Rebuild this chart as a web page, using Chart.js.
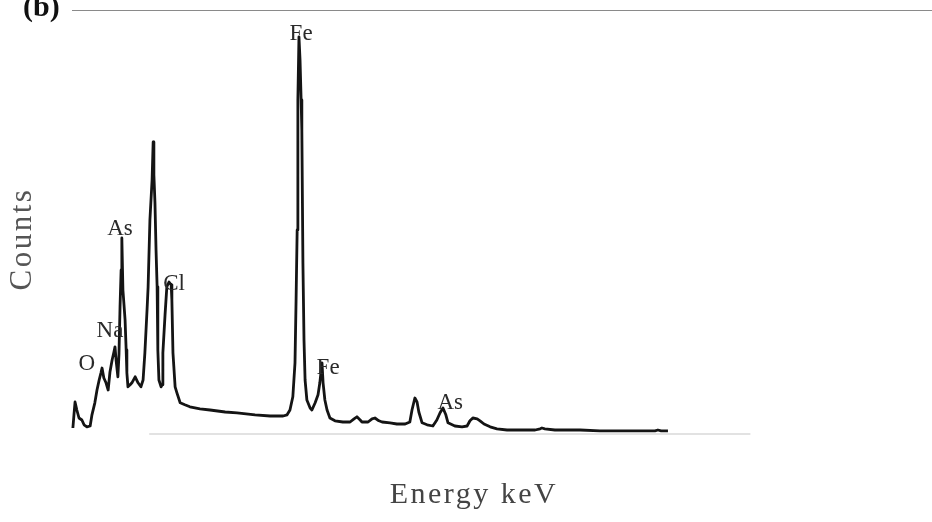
<!DOCTYPE html>
<html>
<head>
<meta charset="utf-8">
<script src="https://cdn.jsdelivr.net/npm/chart.js@4/dist/chart.umd.min.js"></script>
<style>
  html, body { margin: 0; padding: 0; background: #ffffff; }
  #wrap { width: 932px; height: 522px; }
</style>
</head>
<body>
<div id="wrap"><canvas id="c" width="932" height="522"></canvas></div>
<script>
// EDS spectrum: energy (keV) and counts
const energy = [
  0.08, 0.11, 0.14, 0.19, 0.25, 0.33, 0.39, 0.47, 0.56, 0.61, 0.69, 0.75, 0.81, 0.86, 0.89, 0.94,
  1.00, 1.06, 1.11, 1.17, 1.22, 1.25, 1.28, 1.33, 1.36, 1.39, 1.42, 1.44, 1.47, 1.50, 1.53, 1.56,
  1.58, 1.61, 1.67, 1.72, 1.81, 1.89, 1.97, 2.03, 2.08, 2.14, 2.17, 2.22, 2.28, 2.31, 2.33, 2.36,
  2.39, 2.42, 2.44, 2.47, 2.53, 2.56, 2.58, 2.64, 2.69, 2.75, 2.81, 2.83, 2.86, 2.92, 2.97, 3.06,
  3.19, 3.33, 3.61, 3.89, 4.31, 4.64, 5.14, 5.56, 5.92, 6.03, 6.11, 6.19, 6.25, 6.28, 6.31, 6.33,
  6.36, 6.39, 6.42, 6.44, 6.47, 6.50, 6.53, 6.58, 6.67, 6.72, 6.81, 6.89, 6.94, 7.00, 7.03, 7.08,
  7.14, 7.22, 7.36, 7.58, 7.78, 7.89, 7.97, 8.06, 8.11, 8.28, 8.39, 8.47, 8.58, 8.67, 8.89, 9.08,
  9.31, 9.44, 9.50, 9.58, 9.64, 9.69, 9.78, 9.92, 10.08, 10.19, 10.28, 10.36, 10.44, 10.50, 10.69, 10.89,
  11.03, 11.11, 11.19, 11.31, 11.39, 11.50, 11.67, 11.86, 12.14, 12.50, 12.92, 13.06, 13.11, 13.19, 13.47, 14.17,
  14.72, 15.28, 15.83, 16.25, 16.33, 16.42, 16.61
];
const counts = [
  15, 48, 80, 60, 40, 35, 23, 18, 20, 48, 78, 110, 135, 153, 165, 140,
  128, 110, 155, 185, 205, 218, 185, 143, 198, 318, 410, 490, 360, 323, 285, 210,
  153, 118, 123, 128, 143, 128, 118, 135, 203, 310, 368, 535, 635, 730, 648, 578,
  460, 368, 210, 135, 118, 123, 203, 298, 368, 380, 373, 335, 203, 118, 103, 78,
  73, 68, 63, 60, 55, 53, 48, 45, 45, 48, 60, 93, 178, 335, 510, 835,
  993, 935, 835, 760, 428, 235, 135, 85, 65, 60, 78, 98, 128, 178, 128, 85,
  60, 40, 33, 30, 30, 38, 43, 35, 30, 30, 38, 40, 33, 30, 28, 25,
  25, 30, 60, 90, 80, 55, 28, 23, 20, 35, 53, 65, 48, 28, 20, 18,
  20, 33, 40, 38, 33, 25, 18, 13, 10, 10, 10, 13, 15, 13, 10, 10,
  8, 8, 8, 8, 10, 8, 8
];

// Element labels placed above their peaks (energy keV, counts)
const peakNames  = ['O', 'Na', 'As', 'Cl', 'Fe', 'Fe', 'As'];
const peakEnergy = [0.47, 1.11, 1.39, 2.89, 6.42, 7.17, 10.56];
const peakCounts = [160, 243, 498, 360, 985, 150, 63];

const panelTag = '(b)';
const xTitle = 'Energy keV';
const yTitle = 'Counts';

const points = energy.map((e, i) => ({ x: e, y: counts[i] }));

const decor = {
  id: 'decor',
  beforeDatasetsDraw(chart) {
    const { ctx, scales: { x, y } } = chart;
    ctx.save();
    // faint energy baseline
    ctx.strokeStyle = '#d9d9d9';
    ctx.lineWidth = 1.5;
    ctx.beginPath();
    ctx.moveTo(x.getPixelForValue(2.2), y.getPixelForValue(0));
    ctx.lineTo(x.getPixelForValue(18.9), y.getPixelForValue(0));
    ctx.stroke();
    ctx.restore();
  },
  afterDraw(chart) {
    const { ctx, scales: { x, y }, chartArea } = chart;
    ctx.save();

    // panel rule along the top
    ctx.strokeStyle = '#8a8a8a';
    ctx.lineWidth = 1;
    ctx.beginPath();
    ctx.moveTo(chartArea.left + 2, chartArea.top + 0.5);
    ctx.lineTo(chart.width, chartArea.top + 0.5);
    ctx.stroke();

    // panel tag
    ctx.fillStyle = '#111';
    ctx.font = 'bold 30px "Liberation Serif", "Times New Roman", serif';
    ctx.textAlign = 'left';
    ctx.textBaseline = 'alphabetic';
    ctx.fillText(panelTag, 23, 16);

    // element labels
    ctx.fillStyle = '#2a2a2a';
    ctx.font = '23px "Liberation Serif", "Times New Roman", serif';
    ctx.textAlign = 'center';
    peakNames.forEach((n, i) => {
      ctx.fillText(n, x.getPixelForValue(peakEnergy[i]), y.getPixelForValue(peakCounts[i]));
    });

    // axis titles
    ctx.letterSpacing = '2.5px';
    ctx.fillStyle = '#444';
    ctx.font = '30px "Liberation Serif", "Times New Roman", serif';
    ctx.textAlign = 'center';
    ctx.fillText(xTitle, (x.left + x.right) / 2 + 62, 503);

    ctx.fillStyle = '#555';
    ctx.font = '31px "Liberation Serif", "Times New Roman", serif';
    ctx.translate(23, 239);
    ctx.rotate(-Math.PI / 2);
    ctx.textBaseline = 'middle';
    ctx.fillText(yTitle, 0, 0);
    ctx.restore();
  }
};

new Chart(document.getElementById('c'), {
  type: 'line',
  data: {
    datasets: [{
      data: points,
      borderColor: '#141414',
      borderWidth: 2.8,
      pointRadius: 0,
      tension: 0,
      fill: false,
      borderJoinStyle: 'round'
    }]
  },
  options: {
    responsive: false,
    animation: false,
    devicePixelRatio: 1,
    layout: { padding: { left: 70, right: 178, top: 10, bottom: 88 } },
    plugins: { legend: { display: false }, tooltip: { enabled: false } },
    scales: {
      x: { type: 'linear', min: 0, max: 19, display: false },
      y: { min: 0, max: 1060, display: false }
    }
  },
  plugins: [decor]
});
</script>
</body>
</html>
